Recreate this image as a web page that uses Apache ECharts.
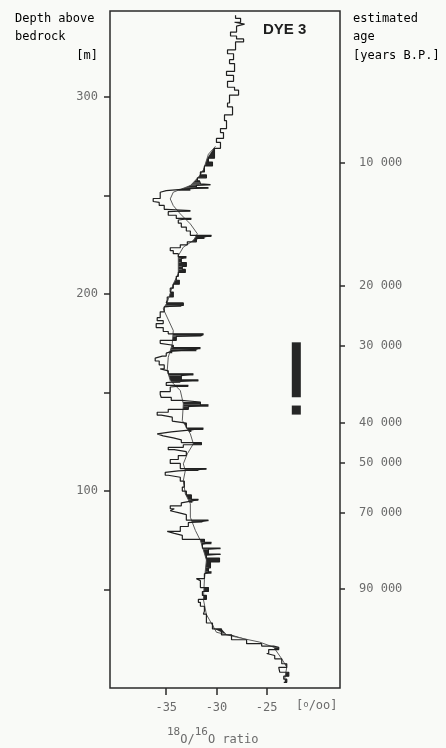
<!DOCTYPE html>
<html>
<head>
<meta charset="utf-8">
<script src="https://cdn.jsdelivr.net/npm/echarts@6/dist/echarts.min.js"></script>
<style>
  html, body { margin: 0; padding: 0; background: #f9faf7; }
  #main { width: 446px; height: 748px; }
</style>
</head>
<body>
<div id="main"></div>
<script>
// detailed d18O record, [permil, depth above bedrock m]; each value holds down to the next depth
const detailProfile = [
  [-28.1, 341.5], [-27.6, 340], [-28.2, 338], [-27.2, 337], [-28.0, 336], [-28.6, 333], [-28.0, 331],
  [-27.3, 329.5], [-28.1, 328], [-28.9, 324], [-28.3, 322], [-28.7, 319], [-28.2, 317], [-29.0, 313],
  [-28.3, 311], [-28.9, 308], [-28.2, 305], [-27.8, 303.5], [-28.7, 301], [-28.9, 297], [-28.4, 295],
  [-29.2, 291], [-29.0, 288], [-29.6, 284], [-29.3, 282], [-30.0, 279], [-29.6, 277], [-30.2, 274],
  [-30.8, 269], [-30.4, 267], [-31.2, 265], [-31.6, 262], [-31.0, 260.5], [-31.9, 259], [-31.7, 257.5],
  [-31.6, 256.5], [-31.7, 256], [-30.6, 255.6], [-32.0, 255.2], [-30.8, 254], [-32.6, 253.5],
  [-35.0, 252.5], [-35.6, 251.7], [-35.6, 250], [-36.3, 248.5], [-36.3, 247], [-35.7, 246.5], [-35.2, 245],
  [-35.0, 243], [-32.6, 242.4], [-34.8, 241.8], [-34.0, 240], [-32.5, 238.4], [-33.8, 237.6], [-33.5, 236],
  [-33.0, 234], [-32.6, 232], [-30.5, 229.8], [-31.2, 229], [-32.0, 228], [-32.9, 226.5], [-33.6, 225],
  [-34.6, 223.5], [-34.3, 222], [-33.8, 220.5], [-33.0, 219], [-33.5, 218], [-33.0, 216], [-33.4, 214],
  [-33.1, 212.5], [-33.8, 211], [-34.0, 209], [-33.7, 207], [-34.3, 205], [-34.6, 203], [-34.3, 201],
  [-34.9, 198.5], [-35.0, 197], [-33.3, 195.5], [-33.5, 194.2], [-35.2, 193.5], [-35.6, 191], [-35.9, 188],
  [-35.3, 186.5], [-36.0, 185], [-35.3, 183], [-34.8, 181], [-31.3, 179.8], [-31.5, 179], [-34.0, 178.5],
  [-35.6, 176.5], [-35.6, 175], [-34.3, 174], [-31.6, 172.8], [-32.0, 172], [-34.4, 171], [-35.0, 170],
  [-35.4, 168.5], [-36.1, 167.5], [-35.7, 166], [-35.2, 164], [-35.6, 162], [-34.8, 161], [-32.3, 159.5],
  [-33.5, 158.6], [-31.8, 156.4], [-33.6, 155.6], [-35.0, 155], [-32.8, 153.6], [-34.6, 152.8],
  [-35.6, 150.5], [-35.5, 149], [-34.5, 147.5], [-33.5, 146], [-31.6, 145.2], [-30.8, 143.8],
  [-32.8, 142.8], [-34.8, 141.5], [-35.9, 140], [-35.5, 138.5], [-34.4, 137.5], [-34.5, 135.5],
  [-33.0, 134.5], [-31.3, 132], [-32.5, 131], [-34.5, 130], [-35.9, 129], [-35.3, 128], [-34.3, 127],
  [-33.5, 126], [-31.5, 124.6], [-33.3, 123.5], [-34.8, 122.2], [-34.2, 121], [-33.0, 120], [-33.8, 118],
  [-34.6, 116], [-33.6, 114], [-31.0, 111.4], [-31.8, 110.8], [-33.8, 110.2], [-35.1, 109.5], [-34.8, 108],
  [-33.6, 107], [-33.2, 105], [-33.4, 102], [-33.0, 100], [-32.5, 98], [-31.8, 95.8], [-32.4, 95],
  [-33.5, 94], [-34.6, 92.5], [-34.2, 91], [-34.6, 90], [-33.8, 89], [-33.0, 88], [-30.8, 85.2],
  [-31.4, 84.6], [-32.8, 84], [-33.6, 82], [-34.9, 79.5], [-34.2, 78.5], [-33.4, 77.5], [-31.2, 75.5],
  [-30.5, 74], [-31.4, 73], [-29.6, 71], [-30.8, 70.5], [-29.6, 68], [-31.0, 67.5], [-29.7, 66],
  [-30.6, 64], [-30.8, 61], [-30.5, 59], [-31.2, 58], [-32.0, 55.5], [-31.6, 54.5], [-30.8, 51],
  [-31.4, 49], [-31.0, 47], [-31.8, 45], [-31.6, 43.5], [-31.2, 41.5], [-31.3, 39], [-31.0, 37.5],
  [-30.4, 33], [-29.5, 30], [-28.5, 27], [-27.0, 24.5], [-25.5, 22.5], [-24.3, 21.3], [-23.8, 20.7],
  [-24.8, 19.5], [-25.0, 17.5], [-24.2, 16.5], [-23.5, 14.8], [-23.0, 12.3], [-23.8, 10.5], [-23.7, 9.5],
  [-22.8, 8], [-23.3, 6], [-23.0, 4.5], [-23.3, 2.9]
];

// smoothed curve (drawn below ~275 m only)
const smoothProfile = [
  [-30.1, 275], [-30.8, 271], [-31.3, 263],
  [-31.8, 259.3], [-32.6, 255.1], [-34.3, 251.7], [-34.6, 248.3], [-34.3, 244.9], [-33.6, 240.7],
  [-32.6, 235.6], [-31.9, 230.6], [-32.3, 227.2], [-33.3, 223.8], [-33.8, 219.5], [-33.8, 210.3],
  [-34.3, 205.2], [-34.9, 195.8], [-35.3, 192.5], [-34.3, 181.5], [-34.4, 174.7], [-34.8, 167.9],
  [-34.9, 161.2], [-34.6, 156.1], [-33.6, 151], [-33.3, 144.3], [-33.4, 135.8], [-32.6, 129],
  [-32.3, 124], [-32.9, 118.9], [-33.3, 113.8], [-33.1, 110.4], [-33.3, 105.3], [-33.1, 98.6],
  [-32.6, 93.5], [-32.6, 86.7], [-32.1, 80], [-31.6, 74.9], [-31.0, 65], [-31.2, 55], [-31.3, 45],
  [-31.0, 37.3], [-30.0, 28.3], [-28.0, 25.8], [-25.7, 23.3], [-24.3, 20.7], [-23.5, 14.8],
  [-23.0, 10.6], [-23.2, 4.7]
];

const depthTicks = [50, 100, 150, 200, 250, 300];
const depthLabels = [100, 200, 300];
const ratioTicks = [-35, -30, -25];
const ageDepths = [266.8, 204.3, 173.9, 134.8, 114.5, 89.1, 50.5];
const ageLabels = ['10 000', '20 000', '30 000', '40 000', '50 000', '70 000', '90 000'];
// black marker bar: [from depth, to depth], drawn between barRatio values
const barRanges = [[175.5, 147.6], [143.4, 138.8]];
const barRatio = [-22.5, -21.6];

const labelFont = { color: '#6b6b6b', fontSize: 12, fontFamily: 'DejaVu Sans Mono' };

// step outline of the detailed record
const detailSteps = [];
detailProfile.forEach((p, i) => {
  detailSteps.push([p[0], p[1]]);
  if (i < detailProfile.length - 1) detailSteps.push([p[0], detailProfile[i + 1][1]]);
});

function smoothAt(depth) {
  if (depth > smoothProfile[0][1]) return null;
  for (let i = 0; i < smoothProfile.length - 1; i++) {
    const a = smoothProfile[i], b = smoothProfile[i + 1];
    if (depth <= a[1] && depth >= b[1]) {
      const t = (a[1] - depth) / (a[1] - b[1]);
      return a[0] + (b[0] - a[0]) * t;
    }
  }
  return smoothProfile[smoothProfile.length - 1][0];
}

const myChart = echarts.init(document.getElementById('main'));

const option = {
  backgroundColor: '#f9faf7',
  animation: false,
  grid: {
    left: 110,
    right: 106,
    top: 11,
    bottom: 60,
    show: true,
    borderColor: '#2a2a2a',
    borderWidth: 1.5,
    outerBoundsMode: 'none',
  },
  xAxis: {
    type: 'value',
    min: -40.6,
    max: -17.7,
    axisLine: { show: false },
    splitLine: { show: false },
    axisTick: { show: true, length: 7, customValues: ratioTicks, lineStyle: { color: '#2a2a2a', width: 1.5 } },
    axisLabel: Object.assign({ margin: 14, customValues: ratioTicks }, labelFont),
  },
  yAxis: [
    {
      type: 'value',
      min: 0,
      max: 343.7,
      axisLine: { show: false },
      splitLine: { show: false },
      axisTick: { show: true, length: 6, customValues: depthTicks, lineStyle: { color: '#2a2a2a', width: 1.5 } },
      axisLabel: Object.assign({ margin: 12, customValues: depthLabels }, labelFont),
    },
    {
      type: 'value',
      position: 'right',
      min: 0,
      max: 343.7,
      axisLine: { show: false },
      splitLine: { show: false },
      axisTick: { show: true, length: 5, customValues: ageDepths, lineStyle: { color: '#2a2a2a', width: 1.5 } },
      axisLabel: Object.assign({
        margin: 19,
        customValues: ageDepths,
        formatter: (v) => {
          const i = ageDepths.indexOf(v);
          return i >= 0 ? ageLabels[i] : '';
        },
      }, labelFont),
    },
  ],
  graphic: [
    { type: 'text', left: 15, top: 13, style: Object.assign({ text: 'Depth above' }, labelFont) },
    { type: 'text', left: 15, top: 31, style: Object.assign({ text: 'bedrock' }, labelFont) },
    { type: 'text', right: 348, top: 50, style: Object.assign({ text: '[m]' }, labelFont) },
    { type: 'text', left: 353, top: 13, style: Object.assign({ text: 'estimated' }, labelFont) },
    { type: 'text', left: 353, top: 31, style: Object.assign({ text: 'age' }, labelFont) },
    { type: 'text', left: 353, top: 50, style: Object.assign({ text: '[years B.P.]' }, labelFont) },
    {
      type: 'text', left: 263, top: 22,
      style: { text: 'DYE 3', fontSize: 15, fontWeight: 'bold', fontFamily: 'Liberation Sans', fill: '#1e1e1e' },
    },
    {
      type: 'text', left: 296, top: 700,
      style: {
        text: '[{s|o}/oo]',
        fontSize: 12, fontFamily: 'DejaVu Sans Mono', fill: '#6b6b6b',
        rich: { s: { fontSize: 9, fontFamily: 'DejaVu Sans Mono', fill: '#6b6b6b', verticalAlign: 'top', lineHeight: 12 } },
      },
    },
    {
      type: 'text', left: 167, top: 727,
      style: {
        text: '{s|18}{n|O/}{s|16}{n|O ratio}',
        fill: '#6b6b6b',
        rich: {
          s: { fontSize: 11, fontFamily: 'DejaVu Sans Mono', fill: '#6b6b6b', verticalAlign: 'top', lineHeight: 19 },
          n: { fontSize: 12, fontFamily: 'DejaVu Sans Mono', fill: '#6b6b6b', verticalAlign: 'bottom', lineHeight: 19 },
        },
      },
    },
  ],
  series: [
    {
      // black shading where the detailed record lies right of the smooth curve
      type: 'custom',
      coordinateSystem: 'cartesian2d',
      silent: true,
      data: detailProfile.slice(0, -1).map((p, i) => [i]),
      encode: { x: -1, y: -1 },
      renderItem: (params, api) => {
        const i = api.value(0);
        const v = detailProfile[i][0];
        const d0 = detailProfile[i][1], d1 = detailProfile[i + 1][1];
        const s0 = smoothAt(d0), s1 = smoothAt(d1);
        if (s0 === null || s1 === null) return null;
        if (v <= s0 && v <= s1) return null;
        return {
          type: 'polygon',
          shape: {
            points: [
              api.coord([Math.max(v, s0), d0]),
              api.coord([Math.max(v, s1), d1]),
              api.coord([s1, d1]),
              api.coord([s0, d0]),
            ],
          },
          style: { fill: '#262626' },
        };
      },
      z: 1,
    },
    {
      type: 'custom',
      coordinateSystem: 'cartesian2d',
      silent: true,
      data: barRanges,
      encode: { x: -1, y: [0, 1] },
      renderItem: (params, api) => {
        const p0 = api.coord([barRatio[0], api.value(0)]);
        const p1 = api.coord([barRatio[1], api.value(1)]);
        return {
          type: 'rect',
          shape: { x: p0[0], y: p0[1], width: p1[0] - p0[0], height: p1[1] - p0[1] },
          style: { fill: '#262626' },
        };
      },
      z: 1,
    },
    {
      type: 'line',
      data: smoothProfile,
      showSymbol: false,
      symbol: 'none',
      lineStyle: { color: '#4a4a4a', width: 0.9 },
      z: 2,
    },
    {
      type: 'line',
      data: detailSteps,
      showSymbol: false,
      symbol: 'none',
      lineStyle: { color: '#202020', width: 1.2 },
      z: 3,
    },
  ],
};

myChart.setOption(option);
</script>
</body>
</html>
